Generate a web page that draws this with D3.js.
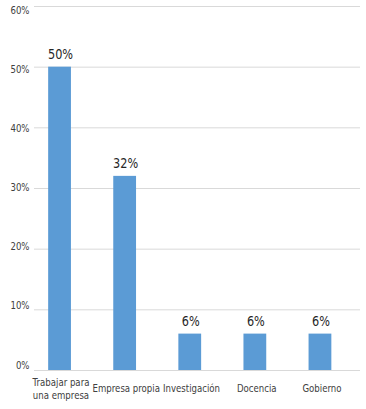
<!DOCTYPE html>
<html><head><meta charset="utf-8">
<script src="https://cdn.jsdelivr.net/npm/d3@7"></script>
<style>
html,body{margin:0;padding:0;background:#fff;}
svg text{font-family:"DejaVu Sans","Liberation Sans",sans-serif;}
</style></head>
<body><svg id="c" width="366" height="409"></svg>
<script>
const categories = [["Trabajar para","una empresa"],["Empresa propia"],["Investigación"],["Docencia"],["Gobierno"]];
const values = [50, 32, 6, 6, 6];
const yTicks = [0, 10, 20, 30, 40, 50, 60];

const SX = 0.78; // horizontal condensing of text
const svg = d3.select("#c");
const x = d3.scaleBand().domain(d3.range(categories.length)).range([27, 352.5]).paddingInner(0.65).paddingOuter(0.325);
const xLab = d3.scalePoint().domain(d3.range(categories.length)).range([61, 322]);
const y = d3.scaleLinear().domain([0, 60]).range([370, 6]);
const yLab = d3.scaleLinear().domain([0, 60]).range([368.5, 14]);

function ctext(g, cx, cy, str, size, fill, anchor) {
  return g.append("text")
    .attr("transform", `translate(${cx},${cy}) scale(${SX},1)`)
    .attr("text-anchor", anchor).attr("font-size", size).attr("fill", fill)
    .text(str);
}

// gridlines
svg.append("g").selectAll("line").data(yTicks).join("line")
  .attr("x1", 34).attr("x2", 360)
  .attr("y1", d => y(d) + 0.5).attr("y2", d => y(d) + 0.5)
  .attr("stroke", "#d9d9d9").attr("stroke-width", 1);

// y labels
const gy = svg.append("g");
yTicks.forEach(d => ctext(gy, 29.5, yLab(d), d + "%", 11, "#404040", "end"));

// bars
svg.append("g").selectAll("rect").data(values).join("rect")
  .attr("x", (d, i) => x(i)).attr("width", x.bandwidth())
  .attr("y", d => y(d)).attr("height", d => y(0) - y(d))
  .attr("fill", "#5b9bd5");

// value labels
const gv = svg.append("g");
values.forEach((d, i) => ctext(gv, x(i) + x.bandwidth() / 2 + 1, y(d) - 8, d + "%", 14.5, "#262626", "middle"));

// category labels
const gc = svg.append("g");
categories.forEach((d, i) => {
  d.forEach((line, j) => {
    const yy = d.length > 1 ? 386 + j * 12.5 : 392;
    ctext(gc, xLab(i), yy, line, 11, "#404040", "middle");
  });
});
</script></body></html>
